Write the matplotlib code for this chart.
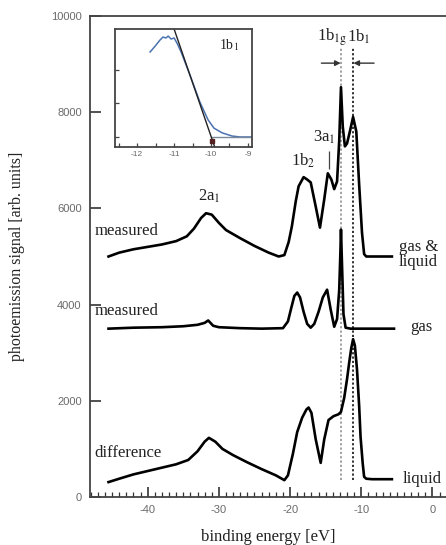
"""Photoemission spectra of water: gas & liquid, gas, and difference (liquid)."""

import matplotlib

matplotlib.use("Agg")
import matplotlib.pyplot as plt
from matplotlib.ticker import MultipleLocator

plt.rcParams["axes.unicode_minus"] = False
plt.rcParams["mathtext.fontset"] = "stix"

SERIF = "Liberation Serif"
SANS = "Liberation Sans"

# gas & liquid (measured, top trace)
mix_energy = [-45.5, -44, -42, -40, -38, -36, -34.5, -33.5, -32.5, -31.8, -31, -30, -29,
              -27, -25, -23, -21.6, -20.8, -20.2, -19.75, -19.2, -18.8, -18.1, -17.6,
              -17.1, -16.4, -15.8, -15.2, -14.7, -14.2, -13.8, -13.4, -13.1, -12.85,
              -12.6, -12.3, -12.0, -11.6, -11.15, -10.7, -10.3, -9.9, -9.6, -9.3, -8.5, -5.7]
mix_signal = [5000, 5080, 5150, 5200, 5250, 5320, 5420, 5580, 5800, 5900, 5870, 5700, 5550,
              5380, 5220, 5080, 5000, 5030, 5300, 5625, 6150, 6460, 6650, 6600,
              6540, 6040, 5600, 6190, 6730, 6600, 6400, 6560, 7400, 8520,
              7700, 7290, 7350, 7600, 7900, 7600, 6500, 5500, 5050, 5000, 5000, 5000]

# gas (measured, middle trace)
gas_energy = [-45.5, -42, -38, -35, -33, -32, -31.5, -30.8, -30, -27, -24, -21, -20.3,
              -19.8, -19.4, -19.0, -18.6, -18.1, -17.6, -17.1, -16.6, -16.0, -15.4, -14.8,
              -14.3, -13.8, -13.4, -13.1, -12.95, -12.85, -12.7, -12.5, -12.2, -11.5, -5.4]
gas_signal = [3500, 3520, 3530, 3550, 3580, 3620, 3670, 3560, 3530, 3510, 3500, 3510, 3650,
              3950, 4180, 4250, 4150, 3850, 3600, 3520, 3600, 3850, 4150, 4310,
              3900, 3540, 3700, 4300, 5000, 5560, 4800, 3800, 3520, 3500, 3500]

# difference = liquid (bottom trace)
liq_energy = [-45.5, -44, -42, -40, -38, -36, -34.3, -33, -32, -31.4, -30.5, -29.5, -28, -26,
              -24, -22, -20.8, -20.3, -19.6, -19.0, -18.3, -17.7, -17.4, -17.0, -16.4,
              -15.7, -15.2, -14.6, -13.9, -13.2, -12.85, -12.4, -12.0, -11.7, -11.4, -11.15,
              -10.9, -10.6, -10.3, -10.1, -9.8, -9.6, -9.3, -8.5, -5.7]
liq_signal = [310, 380, 470, 540, 610, 680, 770, 950, 1150, 1230, 1150, 1000, 870, 720,
              580, 450, 350, 450, 900, 1350, 1650, 1820, 1860, 1750, 1200,
              710, 1200, 1600, 1680, 1720, 1770, 2060, 2450, 2790, 3100, 3280,
              3150, 2650, 1900, 1250, 700, 420, 380, 370, 370]

# peak positions (eV) of the two 1b1 components
peak_1b1g = -12.85
peak_1b1 = -11.15

# inset: leading edge of the liquid 1b1 band
inset_energy = [-11.65, -11.51, -11.38, -11.30, -11.22, -11.16, -11.08, -11.0, -10.92,
                -10.81, -10.57, -10.30, -10.08, -9.92, -9.70, -9.43, -9.22, -8.89]
inset_signal = [0.805, 0.856, 0.907, 0.932, 0.924, 0.94, 0.915, 0.924, 0.88,
                0.805, 0.61, 0.38, 0.23, 0.16, 0.12, 0.093, 0.085, 0.085]
fit_energy = [-11.0, -9.9]
fit_signal = [1.0, 0.0]
base_energy = [-9.97, -8.89]
base_signal = [0.085, 0.085]

fig = plt.figure(figsize=(4.46, 5.45), dpi=100)
ax = fig.add_axes([90 / 446, 48 / 545, 1 - 90 / 446, 481 / 545])

for x, y in [(mix_energy, mix_signal), (gas_energy, gas_signal), (liq_energy, liq_signal)]:
    ax.plot(x, y, color="black", lw=1.9, solid_joinstyle="round", zorder=3)

ax.vlines(peak_1b1g, 350, 9350, colors="#9a9a9a", linestyles=(0, (1.2, 1.2)), lw=1.3, zorder=2)
ax.vlines(peak_1b1, 350, 9350, colors="#222222", linestyles=(0, (1.2, 1.2)), lw=1.3, zorder=2)

arrow = dict(arrowstyle="-|>", color="#333333", lw=1.0, mutation_scale=8, shrinkA=0, shrinkB=0)
ax.annotate("", xy=(peak_1b1g - 0.05, 9020), xytext=(-15.6, 9020), arrowprops=arrow)
ax.annotate("", xy=(peak_1b1 + 0.05, 9020), xytext=(-8.2, 9020), arrowprops=arrow)

lab = dict(family=SERIF, fontsize=12, color="#222222")
ax.text(-14.1, 9560, r"1b$_{\mathrm{1g}}$", ha="center", va="center", **lab)
ax.text(-10.3, 9560, r"1b$_{1}$", ha="center", va="center", **lab)
ax.text(-15.2, 7480, r"3a$_{1}$", ha="center", va="center", **lab)
ax.vlines(-14.5, 6810, 7190, colors="#444444", lw=0.9)
ax.text(-18.1, 6980, r"1b$_{2}$", ha="center", va="center", **lab)
ax.text(-31.4, 6250, r"2a$_{1}$", ha="center", va="center", **lab)

ax.text(-47.5, 5520, "measured", ha="left", va="center", **lab)
ax.text(-47.4, 3870, "measured", ha="left", va="center", **lab)
ax.text(-47.5, 920, "difference", ha="left", va="center", **lab)
ax.text(-4.7, 5040, "gas &\nliquid", ha="left", va="center", linespacing=0.95, **lab)
ax.text(-3.1, 3540, "gas", ha="left", va="center", **lab)
ax.text(-4.2, 380, "liquid", ha="left", va="center", **lab)

ax.set_xlim(-48.1, 1.9)
ax.set_ylim(0, 10000)
ax.xaxis.set_major_locator(MultipleLocator(10))
ax.xaxis.set_minor_locator(MultipleLocator(1))
ax.yaxis.set_major_locator(MultipleLocator(2000))
ax.tick_params(axis="x", which="major", direction="in", length=7, width=1.2, color="#333333")
ax.tick_params(axis="x", which="minor", direction="in", length=3.5, width=0.9, color="#333333")
ax.tick_params(axis="y", direction="in", length=8, width=1.2, color="#333333")
ax.tick_params(labelsize=8, labelcolor="#6a6a6a", pad=6)
for t in ax.get_xticklabels() + ax.get_yticklabels():
    t.set_family(SANS)
ax.spines["right"].set_visible(False)
for s in ("left", "top", "bottom"):
    ax.spines[s].set_linewidth(1.3)
    ax.spines[s].set_color("#444444")

ax.set_xlabel("binding energy [eV]", family=SERIF, fontsize=12, color="#222222", labelpad=10)
ax.set_ylabel("photoemission signal [arb. units]", family=SERIF, fontsize=11.5,
              color="#222222", labelpad=19)

# inset
ins = fig.add_axes([115 / 446, 398 / 545, 137 / 446, 118 / 545])
ins.plot(inset_energy, inset_signal, color="#4a72b0", lw=1.1)
ins.plot(base_energy, base_signal, color="#7a8a9a", lw=1.0)
ins.plot(fit_energy, fit_signal, color="#222222", lw=1.0)
ins.plot([-9.97], [0.05], marker="s", ms=2.5, color="#552222")
ins.text(-9.5, 0.86, r"1b$_{1}$", ha="center", va="center", family=SERIF, fontsize=10,
         color="#222222")
ins.set_xlim(-12.6, -8.89)
ins.set_ylim(0, 1)
ins.xaxis.set_major_locator(MultipleLocator(1))
ins.xaxis.set_minor_locator(MultipleLocator(0.5))
ins.set_yticks([0.085, 0.37, 0.65])
ins.set_yticklabels([])
ins.tick_params(which="both", direction="in", length=3, width=0.9, color="#444444")
ins.tick_params(labelsize=6, labelcolor="#666666", pad=3)
for t in ins.get_xticklabels():
    t.set_family(SANS)
for s in ins.spines.values():
    s.set_linewidth(1.3)
    s.set_color("#444444")

fig.savefig("out.png", dpi=100)
